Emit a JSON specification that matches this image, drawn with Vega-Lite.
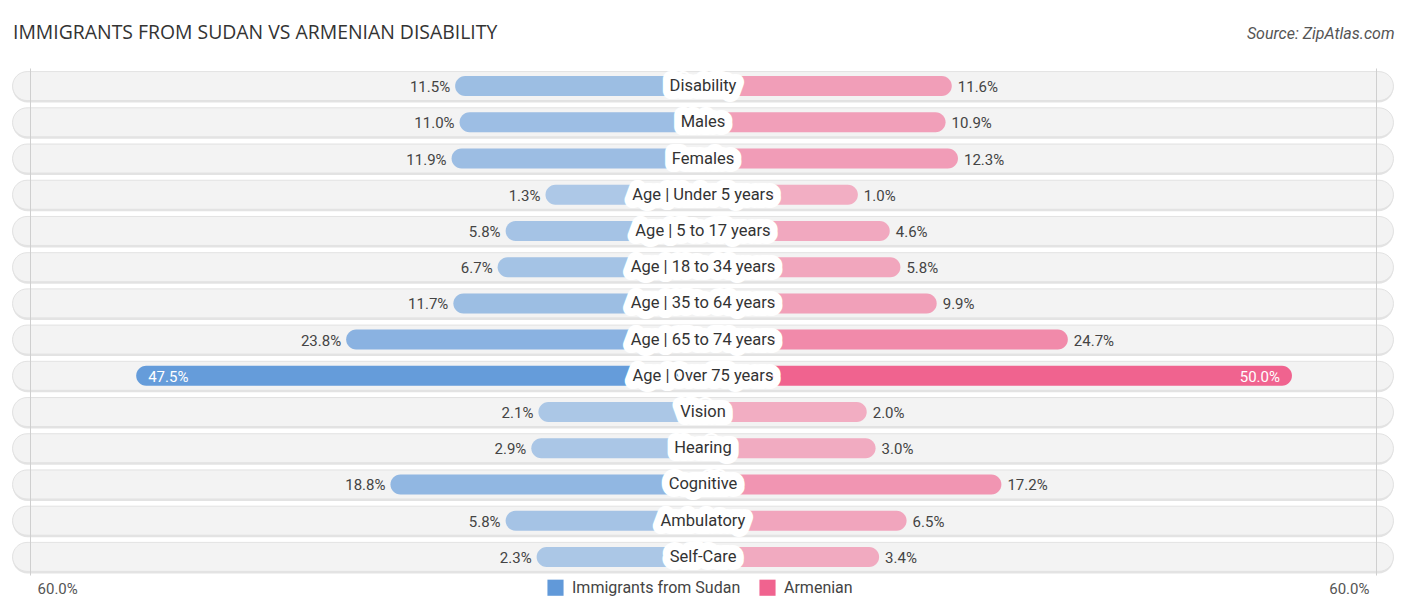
{
  "$schema": "https://vega.github.io/schema/vega-lite/v6.json",
  "width": 1406,
  "height": 507,
  "autosize": "none",
  "padding": {"left": 0, "right": 0, "top": 68, "bottom": 37},
  "background": "white",
  "title": {
    "text": "IMMIGRANTS FROM SUDAN VS ARMENIAN DISABILITY",
    "anchor": "start",
    "frame": "group",
    "dx": 13,
    "offset": 0,
    "dy": 18,
    "font": "Open Sans",
    "fontSize": 19.4,
    "fontWeight": "normal",
    "color": "#333"
  },
  "data": {
    "values": [
      {"category": "Disability", "group": "Immigrants from Sudan", "value": 11.5},
      {"category": "Disability", "group": "Armenian", "value": 11.6},
      {"category": "Males", "group": "Immigrants from Sudan", "value": 11.0},
      {"category": "Males", "group": "Armenian", "value": 10.9},
      {"category": "Females", "group": "Immigrants from Sudan", "value": 11.9},
      {"category": "Females", "group": "Armenian", "value": 12.3},
      {"category": "Age | Under 5 years", "group": "Immigrants from Sudan", "value": 1.3},
      {"category": "Age | Under 5 years", "group": "Armenian", "value": 1.0},
      {"category": "Age | 5 to 17 years", "group": "Immigrants from Sudan", "value": 5.8},
      {"category": "Age | 5 to 17 years", "group": "Armenian", "value": 4.6},
      {"category": "Age | 18 to 34 years", "group": "Immigrants from Sudan", "value": 6.7},
      {"category": "Age | 18 to 34 years", "group": "Armenian", "value": 5.8},
      {"category": "Age | 35 to 64 years", "group": "Immigrants from Sudan", "value": 11.7},
      {"category": "Age | 35 to 64 years", "group": "Armenian", "value": 9.9},
      {"category": "Age | 65 to 74 years", "group": "Immigrants from Sudan", "value": 23.8},
      {"category": "Age | 65 to 74 years", "group": "Armenian", "value": 24.7},
      {"category": "Age | Over 75 years", "group": "Immigrants from Sudan", "value": 47.5},
      {"category": "Age | Over 75 years", "group": "Armenian", "value": 50.0},
      {"category": "Vision", "group": "Immigrants from Sudan", "value": 2.1},
      {"category": "Vision", "group": "Armenian", "value": 2.0},
      {"category": "Hearing", "group": "Immigrants from Sudan", "value": 2.9},
      {"category": "Hearing", "group": "Armenian", "value": 3.0},
      {"category": "Cognitive", "group": "Immigrants from Sudan", "value": 18.8},
      {"category": "Cognitive", "group": "Armenian", "value": 17.2},
      {"category": "Ambulatory", "group": "Immigrants from Sudan", "value": 5.8},
      {"category": "Ambulatory", "group": "Armenian", "value": 6.5},
      {"category": "Self-Care", "group": "Immigrants from Sudan", "value": 2.3},
      {"category": "Self-Care", "group": "Armenian", "value": 3.4}
    ]
  },
  "encoding": {
    "y": {
      "field": "category",
      "type": "nominal",
      "sort": null,
      "axis": null,
      "scale": {"paddingInner": 0, "paddingOuter": 0}
    }
  },
  "layer": [
    {
      "transform": [{"filter": "datum.group === 'Armenian'"}],
      "mark": {"type": "bar", "height": 30, "cornerRadius": 15, "fill": "#e3e3e3", "yOffset": 1.5},
      "encoding": {
        "x": {"datum": -61.56, "type": "quantitative", "scale": {"domain": [-62.68, 62.68]}, "axis": null},
        "x2": {"datum": 61.56}
      }
    },
    {
      "transform": [{"filter": "datum.group === 'Armenian'"}],
      "mark": {"type": "bar", "height": 29, "cornerRadius": 14.5, "fill": "#f3f3f3", "stroke": "#e2e2e2", "strokeWidth": 1},
      "encoding": {
        "x": {
          "datum": -61.56,
          "type": "quantitative",
          "scale": {"domain": [-62.68, 62.68]},
          "axis": {
            "orient": "bottom",
            "values": [-60, 60],
            "grid": true,
            "gridColor": "#cfcfcf",
            "ticks": false,
            "domain": false,
            "title": null,
            "zindex": 1,
            "labelExpr": "'60.0%'",
            "labelAlign": {"condition": {"test": "datum.value < 0", "value": "left"}, "value": "right"},
            "labelOffset": {"condition": {"test": "datum.value < 0", "value": 7}, "value": -7},
            "labelPadding": 6,
            "labelFont": "Roboto",
            "labelFontSize": 15,
            "labelColor": "#555"
          }
        },
        "x2": {"datum": 61.56}
      }
    },
    {
      "transform": [{"filter": "datum.group === 'Immigrants from Sudan'"}],
      "mark": {"type": "bar", "height": 20, "cornerRadius": 10, "xOffset": -146},
      "encoding": {
        "x": {
          "field": "value",
          "type": "quantitative",
          "scale": {"domain": [-79.35, 79.35], "reverse": true},
          "axis": {
            "orient": "top",
            "labels": false,
            "ticks": false,
            "domain": false,
            "grid": false,
            "title": "Source: ZipAtlas.com",
            "titleX": 1394,
            "titleY": -35,
            "titleAlign": "right",
            "titleBaseline": "middle",
            "titleFont": "Roboto",
            "titleFontSize": 16,
            "titleFontStyle": "italic",
            "titleFontWeight": "normal",
            "titleColor": "#555"
          }
        },
        "x2": {"datum": 0},
        "color": {"field": "group", "type": "nominal", "scale": {"domain": ["Immigrants from Sudan", "Armenian"], "range": ["#6199d9", "#f0638f"]}},
        "opacity": {"field": "value", "type": "quantitative", "scale": {"domain": [0, 50], "range": [0.47, 1]}, "legend": null}
      }
    },
    {
      "transform": [{"filter": "datum.group === 'Armenian'"}],
      "mark": {"type": "bar", "height": 20, "cornerRadius": 10, "xOffset": 146},
      "encoding": {
        "x": {"field": "value", "type": "quantitative", "scale": {"domain": [-79.35, 79.35]}, "axis": null},
        "x2": {"datum": 0},
        "color": {"field": "group", "type": "nominal", "scale": {"domain": ["Immigrants from Sudan", "Armenian"], "range": ["#6199d9", "#f0638f"]}},
        "opacity": {"field": "value", "type": "quantitative", "scale": {"domain": [0, 50], "range": [0.47, 1]}, "legend": null}
      }
    },
    {
      "transform": [{"filter": "datum.group === 'Immigrants from Sudan' && datum.value < 40"}],
      "mark": {"type": "text", "align": "right", "baseline": "middle", "dx": -151, "dy": 1, "font": "Roboto", "fontSize": 15, "fill": "#444", "text": {"expr": "format(datum.value, '.1f') + '%'"}},
      "encoding": {
        "x": {"field": "value", "type": "quantitative", "scale": {"domain": [-79.35, 79.35], "reverse": true}, "axis": null}
      }
    },
    {
      "transform": [{"filter": "datum.group === 'Immigrants from Sudan' && datum.value >= 40"}],
      "mark": {"type": "text", "align": "left", "baseline": "middle", "dx": -134, "dy": 1, "font": "Roboto", "fontSize": 15, "fill": "white", "text": {"expr": "format(datum.value, '.1f') + '%'"}},
      "encoding": {
        "x": {"field": "value", "type": "quantitative", "scale": {"domain": [-79.35, 79.35], "reverse": true}, "axis": null}
      }
    },
    {
      "transform": [{"filter": "datum.group === 'Armenian' && datum.value < 40"}],
      "mark": {"type": "text", "align": "left", "baseline": "middle", "dx": 152, "dy": 1, "font": "Roboto", "fontSize": 15, "fill": "#444", "text": {"expr": "format(datum.value, '.1f') + '%'"}},
      "encoding": {
        "x": {"field": "value", "type": "quantitative", "scale": {"domain": [-79.35, 79.35]}, "axis": null}
      }
    },
    {
      "transform": [{"filter": "datum.group === 'Armenian' && datum.value >= 40"}],
      "mark": {"type": "text", "align": "right", "baseline": "middle", "dx": 134, "dy": 1, "font": "Roboto", "fontSize": 15, "fill": "white", "text": {"expr": "format(datum.value, '.1f') + '%'"}},
      "encoding": {
        "x": {"field": "value", "type": "quantitative", "scale": {"domain": [-79.35, 79.35]}, "axis": null}
      }
    },
    {
      "transform": [{"filter": "datum.group === 'Armenian'"}],
      "mark": {"type": "text", "align": "center", "baseline": "middle", "font": "Roboto", "fontSize": 16.5, "fill": "white", "stroke": "white", "strokeWidth": 16, "strokeJoin": "round"},
      "encoding": {
        "x": {"datum": 0, "type": "quantitative", "scale": {"domain": [-1, 1]}, "axis": null},
        "text": {"field": "category", "type": "nominal"}
      }
    },
    {
      "transform": [{"filter": "datum.group === 'Armenian'"}],
      "mark": {"type": "text", "align": "center", "baseline": "middle", "font": "Roboto", "fontSize": 16.5, "fill": "#333"},
      "encoding": {
        "x": {"datum": 0, "type": "quantitative", "scale": {"domain": [-1, 1]}, "axis": null},
        "text": {"field": "category", "type": "nominal"}
      }
    }
  ],
  "resolve": {"scale": {"x": "independent"}},
  "config": {
    "view": {"stroke": null},
    "legend": {
      "orient": "none",
      "legendX": 547,
      "legendY": 511,
      "direction": "horizontal",
      "title": null,
      "symbolType": "square",
      "symbolSize": 260,
      "symbolOpacity": 1,
      "symbolStrokeWidth": 0,
      "labelFont": "Roboto",
      "labelFontSize": 16,
      "labelLimit": 400,
      "labelColor": "#444",
      "labelOffset": 8,
      "columnPadding": 18,
      "padding": 0
    }
  }
}
